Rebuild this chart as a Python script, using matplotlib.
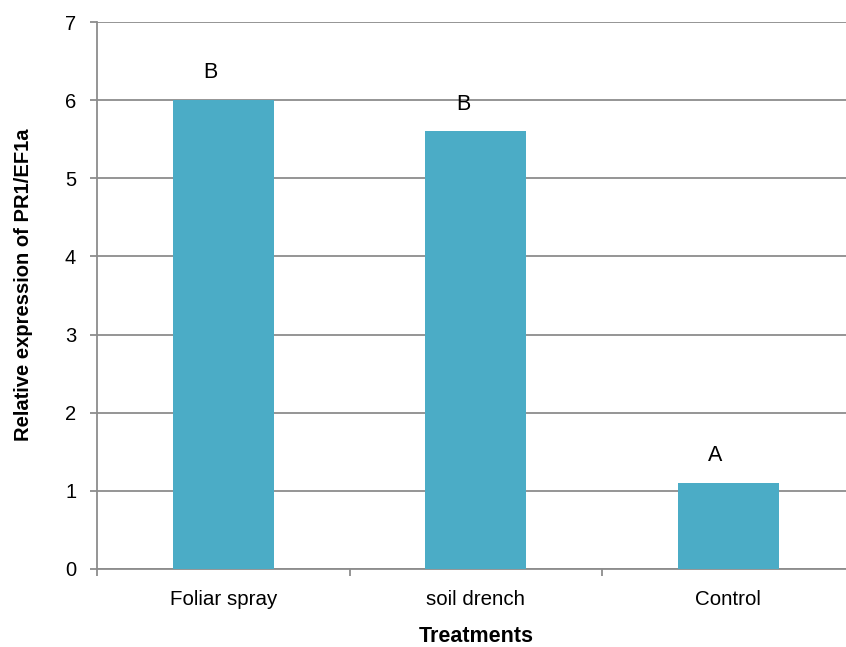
import numpy as np
import matplotlib.pyplot as plt

plt.rcParams['font.family'] = ['Liberation Sans', 'DejaVu Sans']

# data
treatments = ['Foliar spray', 'soil drench', 'Control']
expression = [6.0, 5.6, 1.1]
letters = ['B', 'B', 'A']

fig = plt.figure(figsize=(8.46, 6.47), dpi=100)
ax = fig.add_axes([97 / 846, 1 - 569 / 647, 757.5 / 846, 547 / 647])

x = np.arange(len(treatments))
ax.bar(x, expression, width=0.4, color='#4BACC6', zorder=3)

# significance letters, sitting a bit left of the bar centre like the original
for xi, val, lab in zip(x, expression, letters):
    ax.text(xi - 0.05, val + 0.35, lab, ha='center', va='center', fontsize=15.5, zorder=4)

ax.set_xlim(-0.5, 2.5)
ax.set_ylim(0, 7)
ax.set_yticks(range(0, 8))
ax.set_xticks(x)
ax.set_xticklabels(treatments)
ax.set_xticks(np.arange(-0.5, 2.6, 1.0), minor=True)

grid_col = '#8c8c8c'
ax.grid(axis='y', color=grid_col, linewidth=1.3, zorder=0)
for s in ['top', 'right']:
    ax.spines[s].set_visible(False)
ax.spines['left'].set_color(grid_col)
ax.spines['bottom'].set_color(grid_col)
ax.spines['left'].set_linewidth(1.3)
ax.spines['bottom'].set_linewidth(1.3)

ax.tick_params(axis='x', which='major', length=0, pad=15, labelsize=14.8)
ax.tick_params(axis='x', which='minor', length=5, width=1.3, color=grid_col)
ax.tick_params(axis='y', length=5, width=1.3, color=grid_col, pad=10, labelsize=14.5)

ax.set_xlabel('Treatments', fontsize=15.5, fontweight='bold', labelpad=12)
ax.set_ylabel('Relative expression of PR1/EF1a', fontsize=14.5, fontweight='bold')
ax.yaxis.set_label_coords(-0.085, 0.52)

fig.savefig('out.png', dpi=100)
